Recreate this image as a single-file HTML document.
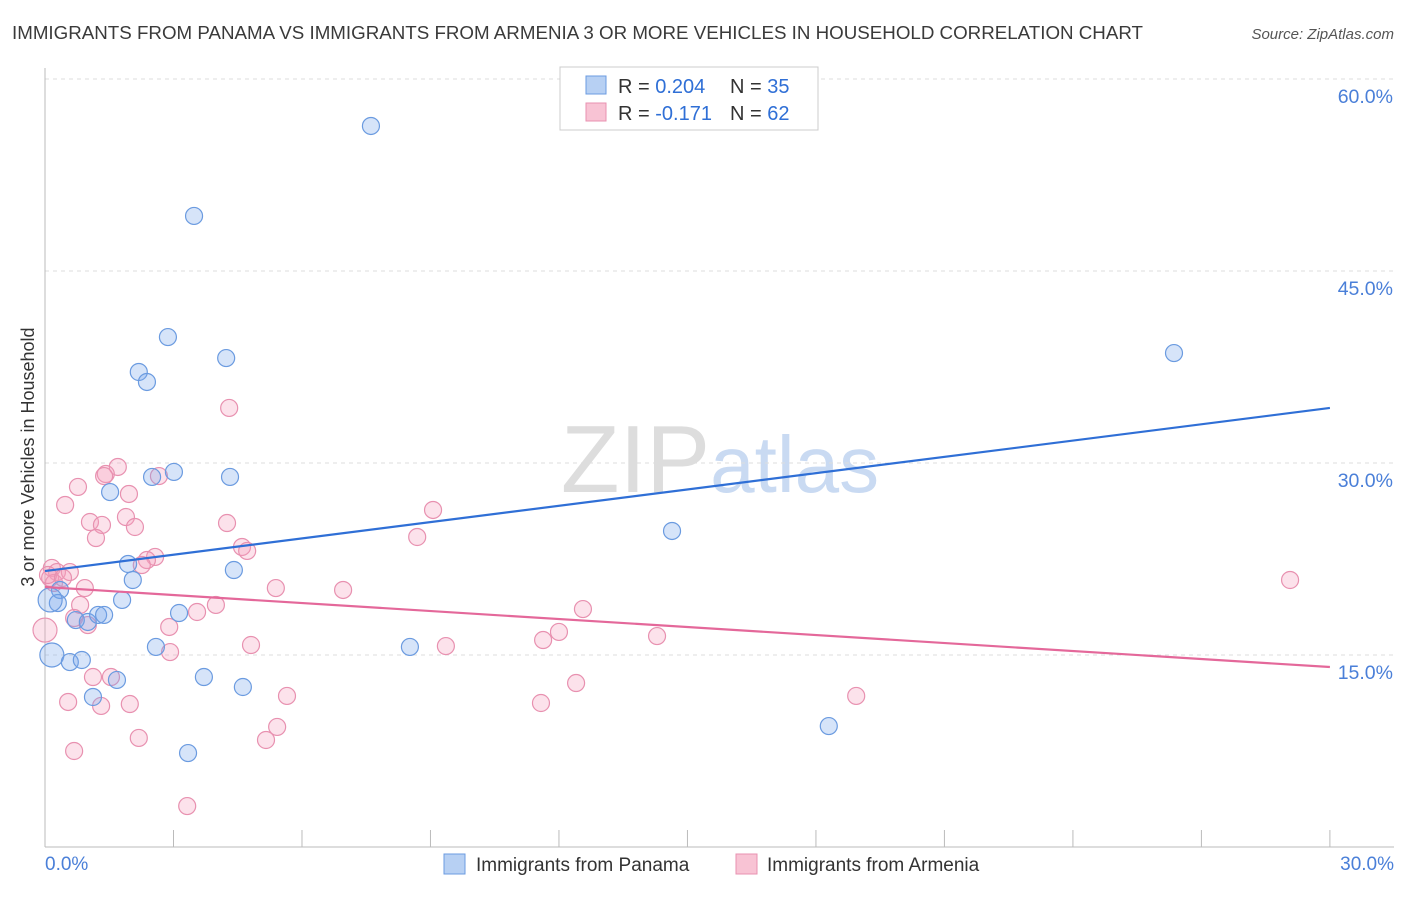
<!DOCTYPE html>
<html><head><meta charset="utf-8"><style>
body{margin:0;background:#fff;font-family:"Liberation Sans",sans-serif;}
svg text{font-family:"Liberation Sans",sans-serif;}
</style></head><body>
<svg id="chart" width="1406" height="892" xmlns="http://www.w3.org/2000/svg">
<text x="12" y="39" font-size="18" fill="#3a3a3a" textLength="1131" lengthAdjust="spacingAndGlyphs">IMMIGRANTS FROM PANAMA VS IMMIGRANTS FROM ARMENIA 3 OR MORE VEHICLES IN HOUSEHOLD CORRELATION CHART</text>
<text x="1394" y="39" font-size="15" fill="#555" text-anchor="end" font-style="italic">Source: ZipAtlas.com</text>
<text transform="translate(34,457) rotate(-90)" font-size="18" fill="#333" text-anchor="middle">3 or more Vehicles in Household</text>
<text x="720" y="492" font-size="96" fill="#ddd" text-anchor="middle" font-family="Liberation Serif">ZIP<tspan fill="#c9daf2" font-family="Liberation Sans" font-size="80">atlas</tspan></text>
<g id="grid"></g><g id="axes"></g><g id="pts"></g><g id="lines"></g>
<g>
<rect x="560" y="67" width="258" height="63" fill="#fff" stroke="#ccc"/>
<rect x="586" y="76" width="20" height="18" fill="#b7d0f3" stroke="#6b9be0"/>
<rect x="586" y="103" width="20" height="18" fill="#f8c3d4" stroke="#e891b0"/>
<text x="618" y="93" font-size="20" fill="#333">R = <tspan fill="#2f6fd6">0.204</tspan><tspan x="730">N = </tspan><tspan fill="#2f6fd6">35</tspan></text>
<text x="618" y="120" font-size="20" fill="#333">R = <tspan fill="#2f6fd6">-0.171</tspan><tspan x="730">N = </tspan><tspan fill="#2f6fd6">62</tspan></text>
</g>
<g>
<rect x="444" y="854" width="21" height="20" fill="#b7d0f3" stroke="#6b9be0"/>
<text x="476" y="871" font-size="19" fill="#333">Immigrants from Panama</text>
<rect x="736" y="854" width="21" height="20" fill="#f8c3d4" stroke="#e891b0"/>
<text x="767" y="871" font-size="19" fill="#333">Immigrants from Armenia</text>
</g>
</svg>
<script>
const yTicks=[15,30,45,60];
const xTickLabels=["0.0%","30.0%"];
const panamaX=[7.61,3.48,2.87,4.23,2.19,2.38,26.36,2.50,3.01,4.32,1.52,14.64,1.94,4.41,2.05,0.35,1.80,0.30,3.13,0.72,1.00,1.24,1.38,2.59,8.52,0.16,0.58,0.86,1.68,3.71,4.62,1.12,18.30,3.34,0.12];
const panamaY=[56.33,49.30,39.84,38.20,37.11,36.33,38.59,28.91,29.30,28.91,27.73,24.69,22.11,21.64,20.86,20.08,19.30,19.06,18.28,17.73,17.58,18.13,18.13,15.63,15.63,15.0,14.45,14.61,13.05,13.28,12.5,11.72,9.45,7.34,19.3];
const armeniaX=[4.30,1.70,1.42,1.38,2.66,0.77,1.96,0.47,1.89,1.05,1.33,2.10,4.25,1.19,9.06,8.69,4.60,4.72,2.57,2.38,2.26,0.16,0.28,0.58,0.12,0.21,0.93,5.39,6.96,29.07,0.82,3.55,3.99,12.56,0.68,1.00,2.90,12.0,11.63,14.29,4.81,9.36,2.92,0,1.12,1.54,5.65,18.94,12.40,0.54,1.31,1.98,11.58,5.42,2.19,5.16,0.68,3.32,0.07,0.42];
const armeniaY=[34.30,29.69,29.14,28.98,28.98,28.13,27.58,26.72,25.78,25.39,25.16,25.0,25.31,24.14,26.33,24.22,23.44,23.13,22.66,22.42,22.03,21.80,21.48,21.48,21.02,20.63,20.23,20.23,20.08,20.86,18.91,18.36,18.91,18.59,17.89,17.34,17.19,16.80,16.17,16.48,15.78,15.70,15.23,16.95,13.28,13.28,11.80,11.80,12.81,11.33,11.02,11.17,11.25,9.38,8.52,8.36,7.50,3.20,21.25,21.02];
const panamaTrend=[21.56,34.30];
const armeniaTrend=[20.31,14.06];
const NS="http://www.w3.org/2000/svg";
const X=v=>45+v*42.83, Y=v=>847-v*12.8;
function mk(p,t,a){const e=document.createElementNS(NS,t);for(const k in a)e.setAttribute(k,a[k]);document.getElementById(p).appendChild(e);return e;}
yTicks.forEach(t=>{
 const l=mk('grid','line',{x1:45,x2:1394,y1:Y(t),y2:Y(t),stroke:'#ddd','stroke-dasharray':'4,4'});
 
 
 const tx=mk('grid','text',{x:1393,y:Y(t)+24,'font-size':19.5,fill:'#4a7fd8','text-anchor':'end'});
 tx.textContent=t.toFixed(1)+'%';
 
 
});
mk('axes','line',{x1:45,x2:45,y1:68,y2:847,stroke:'#bbb'});
mk('axes','line',{x1:45,x2:1394,y1:847,y2:847,stroke:'#bbb'});
for(let i=1;i<=10;i++){mk('axes','line',{x1:X(i*3),x2:X(i*3),y1:830,y2:847,stroke:'#bbb'});}
[[0,'start',45],[30,'end',1394]].forEach((d,i)=>{
 const tx=mk('axes','text',{x:d[2],y:870,'font-size':19,fill:'#4a7fd8','text-anchor':d[1]});
 tx.textContent=xTickLabels[i];
 
 
});
function pts(xs,ys,fill,stroke,name){xs.forEach((x,i)=>{
 const big=(x<0.2&&name==='panama-point')||(x===0);
 const c=mk('pts','circle',{cx:X(x),cy:Y(ys[i]),r:big?12:8.5,fill:fill,stroke:stroke,'stroke-width':1.2});
 
 
});}
pts(armeniaX,armeniaY,'rgba(244,160,188,0.3)','#e891b0','armenia-point');
pts(panamaX,panamaY,'rgba(120,165,235,0.3)','#6b9be0','panama-point');
const l1=mk('lines','line',{x1:X(0),x2:X(30),y1:Y(panamaTrend[0]),y2:Y(panamaTrend[1]),stroke:'#2f6fd6','stroke-width':2.2});


const l2=mk('lines','line',{x1:X(0),x2:X(30),y1:Y(armeniaTrend[0]),y2:Y(armeniaTrend[1]),stroke:'#e4689a','stroke-width':2.2});


</script>
</body></html>
